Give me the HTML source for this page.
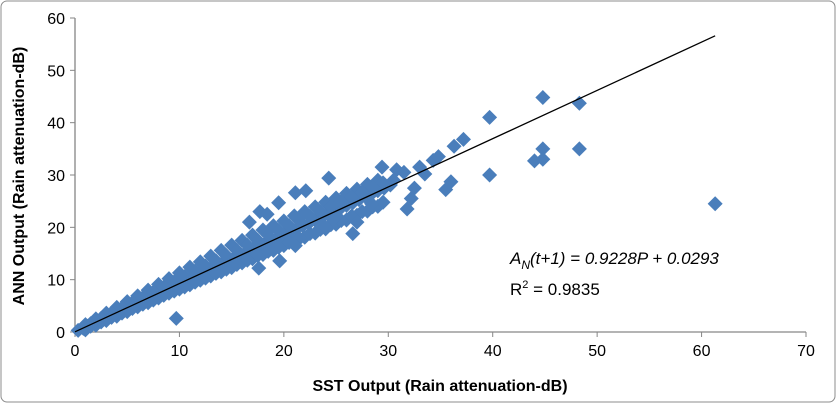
<!DOCTYPE html>
<html><head><meta charset="utf-8"><style>
html,body{margin:0;padding:0;background:#fff;}
svg{display:block;font-family:"Liberation Sans",sans-serif;}
</style></head><body>
<svg id="chart" width="836" height="403" viewBox="0 0 836 403">
<rect x="1" y="1" width="834" height="401" rx="6" fill="#fff" stroke="#8c8c8c"/>
<g id="axes"></g>
<g id="points"></g>
<g id="trend"></g>
<text x="24" y="176" transform="rotate(-90 24 176)" font-size="16" font-weight="bold" fill="#000" text-anchor="middle">ANN Output (Rain attenuation-dB)</text>
<text x="440" y="391" font-size="16" font-weight="bold" fill="#000" text-anchor="middle">SST Output (Rain attenuation-dB)</text>
<text x="510" y="264" font-size="17" font-style="italic" fill="#000">A<tspan font-size="12" dy="5">N</tspan><tspan dy="-5">(t+1) = 0.9228P + 0.0293</tspan></text>
<text x="510" y="295" font-size="17" fill="#000">R<tspan font-size="11" dy="-7">2</tspan><tspan dy="7"> = 0.9835</tspan></text>
</svg>
<script>
const xTicks=[0,10,20,30,40,50,60,70];
const yTicks=[0,10,20,30,40,50,60];
const slope=0.9228, intercept=0.0293;
const xVals=[0.3,0.8,1.2,1.8,2.3,2.9,3.4,4,4.5,5.1,5.6,6.2,6.8,7.3,7.9,8.4,9,9.5,10.1,10.6,11.2,11.8,12.3,12.9,13.5,14,14.6,15.2,15.8,16.4,17,17.6,18.2,18.8,19.4,20,20.6,21.2,21.8,22.4,23,23.6,24.2,24.8,25.4,26,26.6,27.2,27.8,28.4,29,29.6,30.2,
1,2,3,4,5,6,7,8,9,10,11,12,13,14,15,16,17,18,19,20,21,22,23,24,25,26,27,28,29,
1,2,3,4,5,6,7,8,9,10,11,12,13,14,15,16,17,18,19,20,21,22,23,24,25,26,27,28,29,
1.5,2.5,3.5,4.5,5.5,6.5,7.5,8.5,9.5,10.5,11.5,12.5,13.5,14.5,15.5,16.5,17.5,18.5,19.5,20.5,21.5,22.5,23.5,24.5,25.5,26.5,27.5,28.5,29.5,
1.5,2.5,3.5,4.5,5.5,6.5,7.5,8.5,9.5,10.5,11.5,12.5,13.5,14.5,15.5,16.5,17.5,18.5,19.5,20.5,21.5,22.5,23.5,24.5,25.5,26.5,27.5,28.5,29.5,
9.7,61.3,48.3,44.8,48.3,44.8,44.8,44,39.7,39.7,37.2,36.3,36,35.5,34.3,33.5,32.5,31.8,32.2,30.8,29.4,28.4,26.6,27,24.3,21.1,22.1,19.5,17.7,18.4,17.6,19.6,21.1,24,25,16.7,30.5,31.5,33,34.8];
const yVals=[0.3,0.7,1.1,1.7,2.1,2.7,3.2,3.7,4.2,4.7,5.2,5.8,6.3,6.8,7.3,7.8,8.4,8.8,9.4,9.9,10.4,11,11.4,12,12.6,13,13.6,14.1,14.7,15.3,15.8,16.4,16.9,17.5,18,18.6,19.2,19.7,20.3,20.8,21.4,21.9,22.5,23.1,23.6,24.2,24.7,25.3,25.9,26.4,27,27.5,28.1,
1.4,2.5,3.6,4.7,5.8,6.9,8,9.1,10.2,11.3,12.4,13.4,14.5,15.6,16.6,17.5,18.5,19.5,20.3,21.2,22.2,23,23.9,24.8,25.6,26.5,27.3,28.2,29,
0.4,1.3,2.2,3,3.9,4.8,5.6,6.5,7.4,8.2,9,9.9,10.7,11.5,12.3,13.2,14,14.8,15.6,16.5,17.3,18.1,18.9,19.7,20.6,21.4,22.3,23.1,24,
1.6,2.6,3.6,4.6,5.6,6.6,7.6,8.6,9.6,10.6,11.6,12.6,13.6,14.6,15.6,16.6,17.5,18.5,19.4,20.3,21.2,22.1,23,24,24.9,25.8,26.7,27.6,28.5,
1.1,1.9,2.8,3.6,4.5,5.3,6.1,7,7.8,8.6,9.5,10.3,11.2,12,12.9,13.7,14.6,15.4,16.2,17.1,17.9,18.8,19.6,20.5,21.3,22.2,23,23.9,24.8,
2.6,24.5,43.7,44.8,35,35,33,32.7,41,30,36.8,35.5,28.7,27.2,32.8,30.2,27.5,23.5,25.5,31,31.5,24.5,18.8,21,29.4,26.6,27,24.7,23,22.5,12.2,13.6,16.5,20,22,21,29,30.5,31.5,33.5];
const X0=75,X1=806,Y0=332,Y1=18;
const sx=v=>X0+(v-xTicks[0])/(xTicks[xTicks.length-1]-xTicks[0])*(X1-X0);
const sy=v=>Y0-(v-yTicks[0])/(yTicks[yTicks.length-1]-yTicks[0])*(Y0-Y1);
const NS="http://www.w3.org/2000/svg";
function mk(tag,attrs,parent,txt){const e=document.createElementNS(NS,tag);for(const k in attrs)e.setAttribute(k,attrs[k]);if(txt!==undefined)e.textContent=txt;parent.appendChild(e);return e;}
const axes=document.getElementById('axes');
let ax=mk('line',{x1:X0,y1:Y0,x2:X1,y2:Y0,stroke:'#868686','stroke-width':1.3},axes);


let ay=mk('line',{x1:X0,y1:Y0,x2:X0,y2:Y1,stroke:'#868686','stroke-width':1.3},axes);


xTicks.forEach(t=>{
 const x=sx(t);
 const tk=mk('line',{x1:x,y1:Y0,x2:x,y2:Y0+5,stroke:'#868686'},axes);
 
 
 const lb=mk('text',{x:x,y:Y0+24,'font-size':16,'text-anchor':'middle',fill:'#000'},axes,String(t));
 
 
});
yTicks.forEach(t=>{
 const y=sy(t);
 const tk=mk('line',{x1:X0-5,y1:y,x2:X0,y2:y,stroke:'#868686'},axes);
 
 
 const lb=mk('text',{x:X0-10,y:y+6,'font-size':16,'text-anchor':'end',fill:'#000'},axes,String(t));
 
 
});
const pts=document.getElementById('points');
const r=7.5;
for(let i=0;i<xVals.length;i++){
 const cx=sx(xVals[i]),cy=sy(yVals[i]);
 const p=mk('polygon',{points:`${cx},${cy-r} ${cx+r},${cy} ${cx},${cy+r} ${cx-r},${cy}`,fill:'#4a7ebb'},pts);
 
 
}
const xmax=Math.max(...xVals);
const tl=mk('line',{x1:sx(0),y1:sy(intercept),x2:sx(xmax),y2:sy(slope*xmax+intercept),stroke:'#000','stroke-width':1.3},document.getElementById('trend'));


</script>
</body></html>
